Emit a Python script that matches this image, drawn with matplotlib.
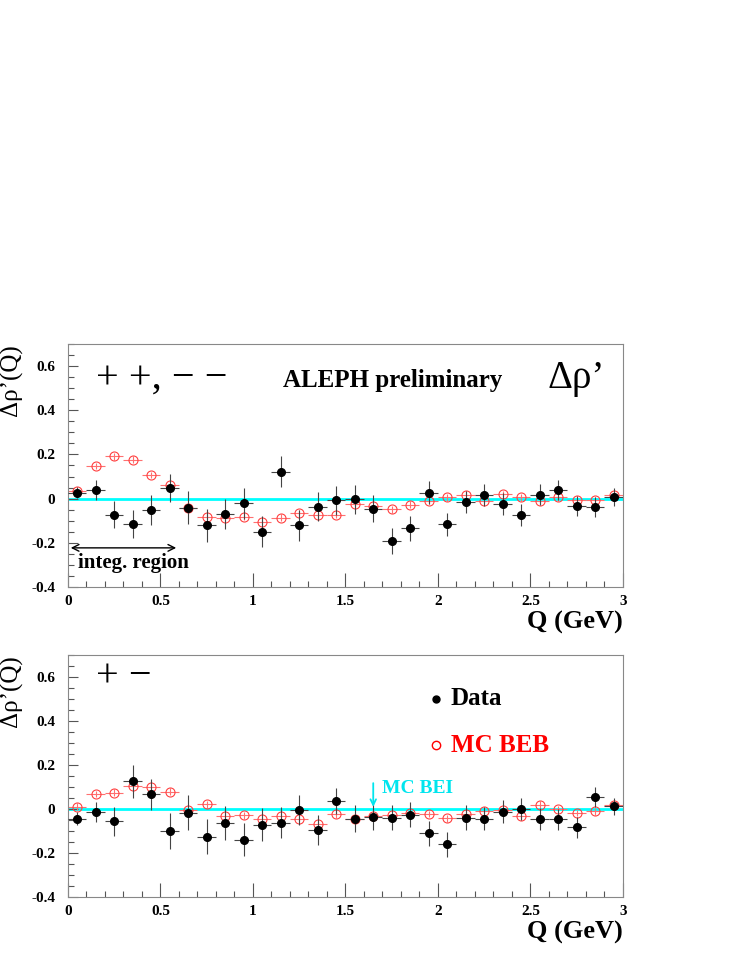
import matplotlib
matplotlib.use("Agg")
import matplotlib.pyplot as plt
import numpy as np
from matplotlib.ticker import MultipleLocator, FormatStrFormatter

plt.rcParams['font.family'] = ['Liberation Serif', 'DejaVu Serif']
plt.rcParams['axes.unicode_minus'] = False

q = [0.05, 0.15, 0.25, 0.35, 0.45, 0.55, 0.65, 0.75, 0.85, 0.95,
     1.05, 1.15, 1.25, 1.35, 1.45, 1.55, 1.65, 1.75, 1.85, 1.95,
     2.05, 2.15, 2.25, 2.35, 2.45, 2.55, 2.65, 2.75, 2.85, 2.95]

# like-sign (++, --)
ls_data = [0.026, 0.038, -0.073, -0.115, -0.050, 0.047, -0.041, -0.121, -0.068, -0.021,
           -0.150, 0.121, -0.121, -0.036, -0.008, -0.003, -0.045, -0.192, -0.135, 0.027,
           -0.117, -0.017, 0.017, -0.023, -0.073, 0.018, 0.039, -0.032, -0.039, 0.006]
ls_data_err = [0.025, 0.044, 0.060, 0.064, 0.068, 0.064, 0.075, 0.075, 0.068, 0.070,
               0.070, 0.070, 0.070, 0.064, 0.064, 0.065, 0.060, 0.057, 0.055, 0.053,
               0.053, 0.050, 0.049, 0.050, 0.050, 0.047, 0.045, 0.045, 0.045, 0.040]
ls_mc = [0.033, 0.147, 0.191, 0.176, 0.106, 0.062, -0.041, -0.082, -0.086, -0.082,
         -0.106, -0.086, -0.065, -0.074, -0.074, -0.024, -0.035, -0.048, -0.027, -0.009,
         0.006, 0.018, -0.011, 0.021, 0.005, -0.011, 0.005, -0.008, -0.008, 0.018]
ls_mc_err = [0.015] * 30

# unlike-sign (+-)
us_data = [-0.045, -0.014, -0.056, 0.126, 0.067, -0.100, -0.017, -0.126, -0.064, -0.139,
           -0.071, -0.062, -0.006, -0.094, 0.036, -0.044, -0.036, -0.039, -0.026, -0.111,
           -0.161, -0.039, -0.044, -0.012, 0.000, -0.044, -0.047, -0.083, 0.055, 0.012]
us_data_err = [0.030, 0.045, 0.065, 0.076, 0.070, 0.083, 0.080, 0.080, 0.078, 0.076,
               0.075, 0.070, 0.068, 0.068, 0.060, 0.060, 0.058, 0.058, 0.056, 0.055,
               0.055, 0.055, 0.053, 0.052, 0.050, 0.050, 0.048, 0.047, 0.045, 0.040]
us_mc = [0.011, 0.068, 0.074, 0.103, 0.098, 0.079, -0.005, 0.021, -0.030, -0.029,
         -0.044, -0.033, -0.045, -0.070, -0.024, -0.044, -0.032, -0.027, -0.017, -0.023,
         -0.042, -0.024, -0.008, -0.006, -0.033, 0.020, -0.002, -0.018, -0.011, 0.017]
us_mc_err = [0.015] * 30

xerr = [0.05] * 30

fig = plt.figure(figsize=(7.47, 9.67), dpi=100)
ax1 = fig.add_axes([0.091, 0.393, 0.743, 0.2513])
ax2 = fig.add_axes([0.091, 0.0724, 0.743, 0.2503])

def style(ax):
    ax.set_xlim(0, 3)
    ax.set_ylim(-0.4, 0.7)
    ax.xaxis.set_major_locator(MultipleLocator(0.5))
    ax.xaxis.set_minor_locator(MultipleLocator(0.1))
    ax.yaxis.set_major_locator(MultipleLocator(0.2))
    ax.yaxis.set_minor_locator(MultipleLocator(0.05))
    ax.xaxis.set_major_formatter(FormatStrFormatter('%g'))
    ax.yaxis.set_major_formatter(FormatStrFormatter('%g'))
    ax.tick_params(which='both', direction='in', top=False, right=False,
                   color='#555555', width=0.8, labelsize=11)
    ax.tick_params(axis='x', which='major', length=10, pad=6)
    ax.tick_params(axis='x', which='minor', length=4)
    ax.tick_params(axis='y', which='major', length=7, pad=9)
    ax.tick_params(axis='y', which='minor', length=4)
    for lab in ax.get_xticklabels() + ax.get_yticklabels():
        lab.set_fontweight('bold')
    for s in ax.spines.values():
        s.set_color('#888888')
        s.set_linewidth(0.8)
    ax.axhline(0, color='#00ffff', lw=2, zorder=1)
    ax.set_ylabel('Δρ’(Q)', fontsize=18, rotation=90, y=1.0, ha='right', labelpad=6)
    ax.set_xlabel('Q (GeV)', fontsize=19, fontweight='bold', x=1.0, ha='right', labelpad=2)

def draw(ax, data, derr, mc, mcerr):
    ax.errorbar(q, mc, xerr=xerr, yerr=mcerr, fmt='o', ms=6.5, mfc='none', mec='#ff4040',
                mew=0.8, ecolor='#ff7070', elinewidth=0.8, capsize=0, zorder=2)
    ax.errorbar(q, data, xerr=xerr, yerr=derr, fmt='o', ms=5.5, mfc='black', mec='black',
                ecolor='#444444', elinewidth=0.8, capsize=0, zorder=3)

style(ax1)
style(ax2)
draw(ax1, ls_data, ls_data_err, ls_mc, ls_mc_err)
draw(ax2, us_data, us_data_err, us_mc, us_mc_err)

# top panel annotations
ax1.text(0.15, 0.545, '+ +, − −', fontsize=29, va='center', ha='left')
ax1.text(1.16, 0.535, 'ALEPH preliminary', fontsize=18, fontweight='bold', va='center', ha='left')
ax1.text(2.59, 0.545, 'Δρ’', fontsize=28, va='center', ha='left')
ax1.annotate('', xy=(0.0, -0.223), xytext=(0.6, -0.223),
             arrowprops=dict(arrowstyle='<->', color='black', lw=1, mutation_scale=12))
ax1.text(0.055, -0.29, 'integ. region', fontsize=15, fontweight='bold', va='center', ha='left')

# bottom panel annotations
ax2.text(0.15, 0.6, '+ −', fontsize=29, va='center', ha='left')
ax2.plot([1.99], [0.50], 'o', color='black', ms=5)
ax2.text(2.07, 0.50, 'Data', fontsize=18, fontweight='bold', va='center', ha='left')
ax2.plot([1.99], [0.29], 'o', mfc='none', mec='red', ms=6, mew=1)
ax2.text(2.07, 0.29, 'MC BEB', fontsize=18, fontweight='bold', color='red', va='center', ha='left')
ax2.annotate('', xy=(1.65, -0.003), xytext=(1.65, 0.13),
             arrowprops=dict(arrowstyle='->', color='#00e5ee', lw=1.3, mutation_scale=10))
ax2.text(1.70, 0.095, 'MC BEI', fontsize=14, fontweight='bold', color='#00e5ee', va='center', ha='left')

fig.savefig('out.png', dpi=100)
